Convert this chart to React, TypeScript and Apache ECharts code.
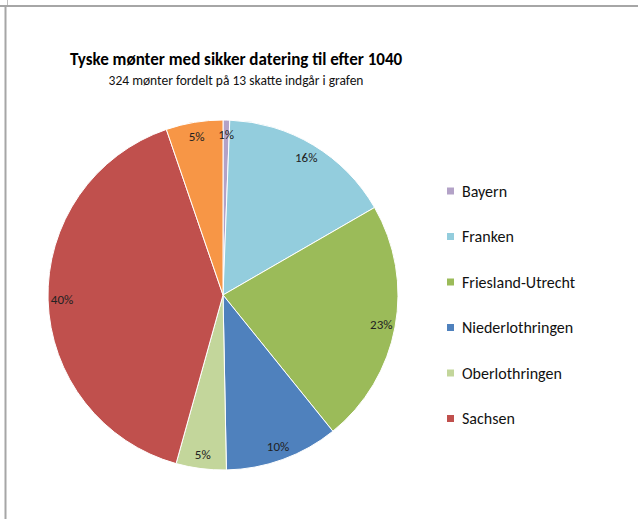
import React, { useEffect, useRef } from "react";
import * as echarts from "echarts";

const categories = [
  "Bayern",
  "Franken",
  "Friesland-Utrecht",
  "Niederlothringen",
  "Oberlothringen",
  "Sachsen",
  "Øvrige",
];
const coinCounts = [2, 52, 73, 34, 15, 131, 17];
const sliceColors = ["#b3a2c7", "#93cddd", "#9bbb59", "#4f81bd", "#c3d69b", "#c0504d", "#f79646"];
const legendNames = categories.slice(0, 6);

const titleText = "Tyske mønter med sikker datering til efter 1040";
const subtitleText = "324 mønter fordelt på 13 skatte indgår i grafen";

const FONT = "Carlito, Lato, 'Liberation Sans', sans-serif";

export default function App() {
  const ref = useRef<HTMLDivElement>(null);
  useEffect(() => {
    if (!ref.current) return;
    const chart = echarts.init(ref.current, undefined, { renderer: "svg" });
    const data = categories.map((name, i) => ({
      name,
      value: coinCounts[i],
      itemStyle: { color: sliceColors[i] },
    }));
    const center = [223, 295];
    chart.setOption({
      animation: false,
      backgroundColor: "#ffffff",
      title: {
        text: titleText,
        subtext: subtitleText,
        left: 231,
        textAlign: "center",
        top: 46,
        itemGap: 5,
        textStyle: { fontFamily: FONT, fontSize: 17, fontWeight: "bold", color: "#000" },
        subtextStyle: { fontFamily: FONT, fontSize: 13.5, color: "#111" },
      },
      legend: {
        orient: "vertical",
        left: 440,
        top: 178,
        data: legendNames,
        icon: "rect",
        itemWidth: 9,
        itemHeight: 9,
        itemGap: 29.5,
        selectedMode: false,
        textStyle: {
          fontFamily: FONT,
          fontSize: 16,
          lineHeight: 16,
          color: "#111",
          padding: [0, 0, 0, 2],
        },
      },
      graphic: [
        { type: "line", shape: { x1: 0, y1: 6, x2: 638, y2: 6 }, style: { stroke: "#a6a6a6", lineWidth: 2 } },
        { type: "line", shape: { x1: 5.5, y1: 6, x2: 5.5, y2: 519 }, style: { stroke: "#a6a6a6", lineWidth: 2 } },
        { type: "line", shape: { x1: 7.5, y1: 0, x2: 7.5, y2: 5 }, style: { stroke: "#c0c0c0", lineWidth: 1 } },
      ],
      series: [
        {
          type: "pie",
          center,
          radius: [0, 175],
          startAngle: 90,
          clockwise: true,
          data,
          label: { show: false },
          labelLine: { show: false },
          itemStyle: { borderColor: "#ffffff", borderWidth: 1 },
          emphasis: { disabled: true },
          silent: true,
        },
        {
          type: "pie",
          center,
          radius: [0, 316],
          startAngle: 90,
          clockwise: true,
          avoidLabelOverlap: false,
          minShowLabelAngle: 0,
          data: categories.map((name, i) => ({ name, value: coinCounts[i] })),
          itemStyle: { color: "rgba(0,0,0,0)" },
          label: {
            show: true,
            position: "inside",
            formatter: (p: any) => Math.round(p.percent) + "%",
            fontFamily: FONT,
            fontSize: 13,
            color: "#222",
          },
          labelLine: { show: false },
          emphasis: { disabled: true },
          silent: true,
        },
      ],
    });
    return () => chart.dispose();
  }, []);
  return (
    <div
      ref={ref}
      style={{ position: "fixed", left: 0, top: 0, width: 638, height: 519 }}
    />
  );
}
